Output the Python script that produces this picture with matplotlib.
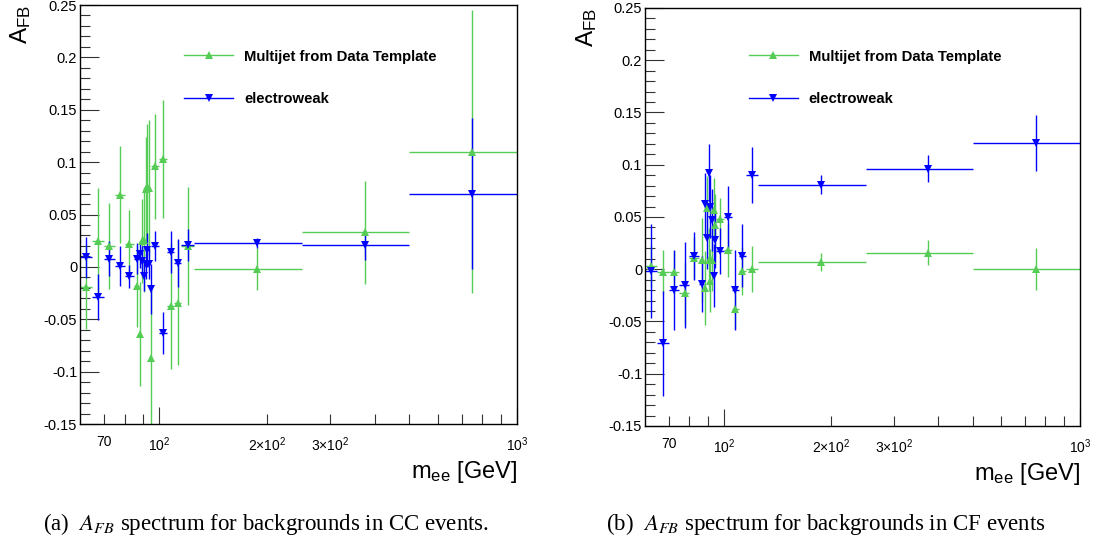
import matplotlib
matplotlib.use("Agg")
import matplotlib.pyplot as plt
from matplotlib.ticker import FixedLocator, FuncFormatter, MultipleLocator
from matplotlib.lines import Line2D

plt.rcParams['font.family'] = ['Liberation Sans', 'DejaVu Sans']
plt.rcParams['mathtext.fontset'] = 'custom'
plt.rcParams['mathtext.rm'] = 'Liberation Sans'
plt.rcParams['mathtext.it'] = 'Liberation Sans:italic'
plt.rcParams['mathtext.bf'] = 'Liberation Sans:bold'

# границы бинов по m_ee (GeV)
edges = [60, 65, 70, 75, 80, 85, 88, 89, 90, 91, 92, 93, 94, 95,
         100, 105, 110, 115, 125, 250, 500, 1000]

# (a) CC
cc_qcd = [-0.019, 0.025, 0.020, 0.069, 0.022, -0.018, -0.064, 0.025, 0.026, 0.074, 0.076,
          0.075, -0.087, 0.096, 0.103, -0.037, -0.034, 0.020, -0.002, 0.033, 0.110]
cc_qcd_err = [0.040, 0.050, 0.041, 0.046, 0.032, 0.039, 0.050, 0.040, 0.050, 0.050, 0.060,
              0.065, 0.070, 0.050, 0.056, 0.060, 0.060, 0.056, 0.020, 0.049, 0.135]
cc_ew = [0.009, -0.029, 0.008, 0.001, -0.009, 0.008, 0.012, 0.006, -0.009, 0.003, 0.016,
         0.003, -0.021, 0.020, -0.063, 0.014, 0.004, 0.021, 0.023, 0.021, 0.070]
cc_ew_err = [0.020, 0.022, 0.017, 0.019, 0.011, 0.015, 0.013, 0.014, 0.014, 0.015, 0.016,
             0.015, 0.024, 0.014, 0.020, 0.020, 0.023, 0.015, 0.005, 0.014, 0.072]

# (b) CF
cf_qcd = [0.003, -0.003, -0.003, -0.023, 0.011, 0.009, -0.018, 0.059, 0.009, -0.011, 0.009,
          0.057, 0.042, 0.048, 0.018, -0.038, -0.002, 0.000, 0.007, 0.016, 0.000]
cf_qcd_err = [0.020, 0.021, 0.020, 0.030, 0.020, 0.040, 0.035, 0.030, 0.030, 0.030, 0.030,
              0.030, 0.030, 0.020, 0.025, 0.019, 0.023, 0.022, 0.009, 0.012, 0.020]
cf_ew = [-0.002, -0.071, -0.020, -0.015, 0.013, -0.014, 0.062, 0.030, 0.092, 0.060, 0.047,
         -0.006, 0.028, 0.017, 0.050, -0.020, 0.013, 0.090, 0.081, 0.096, 0.121]
cf_ew_err = [0.045, 0.050, 0.038, 0.041, 0.023, 0.027, 0.030, 0.030, 0.028, 0.030, 0.030,
             0.030, 0.027, 0.022, 0.030, 0.038, 0.030, 0.027, 0.009, 0.013, 0.027]

x_major = [100, 1000]
x_major_labels = [r'$10^{2}$', r'$10^{3}$']
x_minor = [70, 80, 90, 200, 300, 400, 500, 600, 700, 800, 900]
x_minor_labels = {70: '70', 200: r'$2{\times}10^{2}$', 300: r'$3{\times}10^{2}$'}

green = '#55cc55'
blue = '#0000ff'

centers = [(lo + hi) / 2 for lo, hi in zip(edges[:-1], edges[1:])]
half_w = [(hi - lo) / 2 for lo, hi in zip(edges[:-1], edges[1:])]

fig = plt.figure(figsize=(10.93, 5.46), dpi=100)
ax1 = fig.add_axes([0.0732, 0.2234, 0.3998, 0.7674])
ax2 = fig.add_axes([0.5901, 0.2198, 0.3980, 0.7656])


def draw(ax, qcd, qcd_err, ew, ew_err, caption, cap_x, leg_y):
    ax.errorbar(centers, qcd, yerr=qcd_err, xerr=half_w, fmt='^', color=green,
                ms=5.5, elinewidth=1.0, capsize=0, mew=0)
    ax.errorbar(centers, ew, yerr=ew_err, xerr=half_w, fmt='v', color=blue,
                ms=5.5, elinewidth=1.0, capsize=0, mew=0)
    ax.set_xscale('log')
    ax.set_xlim(60, 1000)
    ax.set_ylim(-0.15, 0.25)

    ax.xaxis.set_major_locator(FixedLocator(x_major))
    ax.xaxis.set_major_formatter(FuncFormatter(lambda v, p: x_major_labels[x_major.index(round(v))] if round(v) in x_major else ''))
    ax.xaxis.set_minor_locator(FixedLocator(x_minor))
    ax.xaxis.set_minor_formatter(FuncFormatter(lambda v, p: x_minor_labels.get(int(round(v)), '')))
    ax.yaxis.set_major_locator(MultipleLocator(0.05))
    ax.yaxis.set_minor_locator(MultipleLocator(0.01))
    ax.yaxis.set_major_formatter(FuncFormatter(lambda v, p: ('%g' % round(v, 3)) if abs(v) > 1e-9 else '0'))

    ax.tick_params(axis='both', which='both', direction='in', top=False, right=False,
                   width=0.8, color='#333333')
    ax.tick_params(axis='y', which='major', labelsize=10.5, length=14, pad=2)
    ax.tick_params(axis='y', which='minor', length=7)
    ax.tick_params(axis='x', which='major', labelsize=10, length=12, pad=8)
    ax.tick_params(axis='x', which='minor', labelsize=10, length=7, pad=8)
    for s in ax.spines.values():
        s.set_linewidth(1.0)

    ax.text(1.0, -0.115, r'$\mathrm{m_{ee}}$ [GeV]', transform=ax.transAxes,
            ha='right', va='center', fontsize=17)
    ax.text(-0.135, 1.0, r'$\mathrm{A_{FB}}$', transform=ax.transAxes, rotation=90,
            ha='center', va='top', fontsize=17.5)

    handles = [Line2D([], [], color=green, marker='^', ms=5.5, mew=0, lw=1.0),
               Line2D([], [], color=blue, marker='v', ms=5.5, mew=0, lw=1.0)]
    ax.legend(handles, ['Multijet from Data Template', 'electroweak'],
              loc='upper left', bbox_to_anchor=(0.238, leg_y), frameon=False,
              borderpad=0, borderaxespad=0, handlelength=3.3, handletextpad=0.74,
              labelspacing=1.9, numpoints=1, prop={'weight': 'bold', 'size': 10.7})

    fig.text(cap_x, 0.040, caption, ha='center', va='center', fontsize=16.5,
             family='Liberation Serif', math_fontfamily='stix')


draw(ax1, cc_qcd, cc_qcd_err, cc_ew, cc_ew_err,
     r'(a)  $A_{FB}$ spectrum for backgrounds in CC events.', 0.2435, 0.8936)
draw(ax2, cf_qcd, cf_qcd_err, cf_ew, cf_ew_err,
     r'(b)  $A_{FB}$ spectrum for backgrounds in CF events', 0.7557, 0.9005)

fig.savefig('out.png', dpi=100)
